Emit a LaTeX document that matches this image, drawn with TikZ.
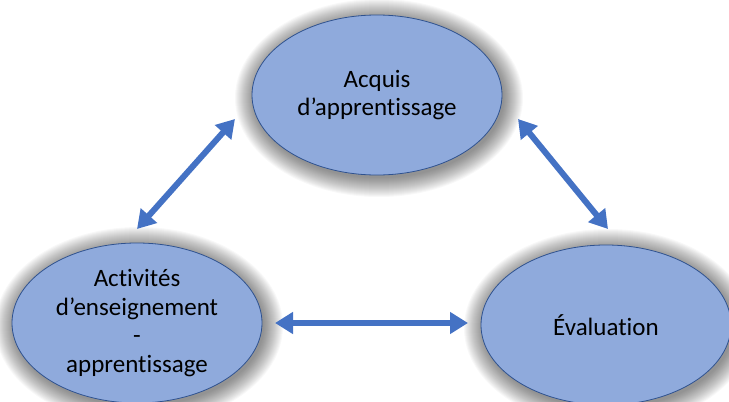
\documentclass[tikz,border=0pt]{standalone}
\usepackage{fontspec}
\setmainfont[RawFeature=-liga]{Carlito}
\usetikzlibrary{shapes.geometric,arrows.meta}
\definecolor{efill}{HTML}{8FAADC}
\definecolor{edraw}{HTML}{2F528F}
\definecolor{arrowblue}{HTML}{4472C4}
\tikzset{
  bubble/.style={ellipse, fill=efill, draw=edraw, line width=0.8pt,
    minimum width=250pt, minimum height=160pt, inner sep=0pt,
    align=center, font=\fontsize{25}{28.5}\selectfont},
  softshade/.style={fill=black, opacity=0.028},
  dblarrow/.style={draw=arrowblue, line width=6pt,
    {Triangle[width=21pt,length=18pt]}-{Triangle[width=21pt,length=18pt]}}
}
\newcommand{\mysoftshadow}[2]{%
  \foreach \i in {0,...,19}{%
    \fill[softshade] (#1+2,#2+3) ellipse [x radius={125+\i}, y radius={80+\i}];
  }%
}
\begin{document}
\begin{tikzpicture}[x=1pt,y=-1pt]
\useasboundingbox (0,0) rectangle (729,402);
\clip (0,0) rectangle (729,402);
\mysoftshadow{377}{95}
\mysoftshadow{137}{323}
\mysoftshadow{606}{325}
\node[bubble] (top) at (377,95) {Acquis\\d’apprentissage};
\node[bubble] (left) at (137,323) {Activités\\d’enseignement\\-\\apprentissage};
\node[bubble] (right) at (606,325) {Évaluation};
\coordinate (tl) at (235,119);
\coordinate (lt) at (137,229);
\coordinate (tr) at (518,119);
\coordinate (rt) at (608,229);
\coordinate (lr) at (275,323);
\coordinate (rl) at (468,323);
\draw[dblarrow] (tl) -- (lt);
\draw[dblarrow] (tr) -- (rt);
\draw[dblarrow] (lr) -- (rl);
\end{tikzpicture}
\end{document}
